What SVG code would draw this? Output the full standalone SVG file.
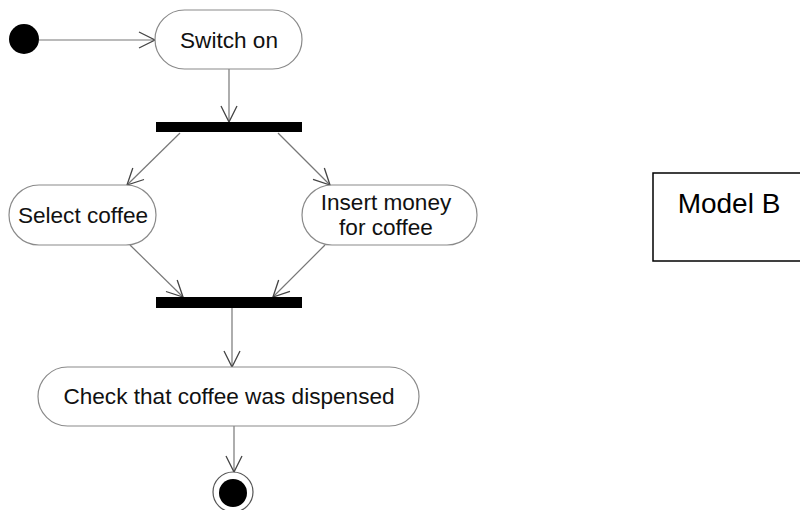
<svg xmlns="http://www.w3.org/2000/svg" width="800" height="510" viewBox="0 0 800 510">
<style>
.act{fill:#fff;stroke:#8a8a8a;stroke-width:1.2}
.bar{fill:#000}
.lbl{font-family:"Liberation Sans",Arial,sans-serif;font-size:22.6px;fill:#111;text-anchor:middle}
.edge{stroke:#777;stroke-width:1.2;fill:none;marker-end:url(#arr)}
</style>
<defs>
<marker id="arr" markerUnits="userSpaceOnUse" markerWidth="20" markerHeight="20" refX="17" refY="9" orient="auto">
<path d="M1,1 L17,9 L1,17" fill="none" stroke="#444" stroke-width="1.3"/>
</marker>
</defs>
<rect width="800" height="510" fill="#fff"/>
<g id="edges">
<line class="edge" x1="39" y1="40" x2="155" y2="40"/>
<line class="edge" x1="229" y1="69" x2="229" y2="122"/>
<line class="edge" x1="180" y1="133" x2="127" y2="185"/>
<line class="edge" x1="278" y1="133" x2="330" y2="185"/>
<line class="edge" x1="130" y1="245" x2="183" y2="297"/>
<line class="edge" x1="325" y1="245" x2="273" y2="297"/>
<line class="edge" x1="232" y1="308" x2="232" y2="367"/>
<line class="edge" x1="234" y1="426" x2="234" y2="472"/>
</g>
<g id="start"><circle cx="24" cy="39" r="15" fill="#000"/></g>
<g id="switchOn">
<rect class="act" x="155" y="10" width="147" height="59" rx="29.5"/>
<text class="lbl" x="229" y="48">Switch on</text>
</g>
<g id="fork"><rect class="bar" x="156" y="122" width="146" height="10"/></g>
<g id="selectCoffee">
<rect class="act" x="9" y="185" width="147" height="60" rx="30"/>
<text class="lbl" x="83" y="223">Select coffee</text>
</g>
<g id="insertMoney">
<rect class="act" x="302" y="185" width="175" height="60" rx="30"/>
<text class="lbl" x="386" y="210">Insert money</text>
<text class="lbl" x="386" y="235">for coffee</text>
</g>
<g id="join"><rect class="bar" x="156" y="297" width="146" height="11"/></g>
<g id="check">
<rect class="act" x="38" y="367" width="381" height="59" rx="29.5"/>
<text class="lbl" x="229" y="404">Check that coffee was dispensed</text>
</g>
<g id="end">
<circle cx="233" cy="492" r="20" fill="#fff" stroke="#555" stroke-width="1.2"/>
<circle cx="233" cy="493" r="14" fill="#000"/>
</g>
<g id="modelB">
<rect x="653" y="173" width="160" height="88" fill="#fff" stroke="#000" stroke-width="1.5"/>
<text x="729" y="213" font-family="Liberation Sans,Arial,sans-serif" font-size="28" fill="#000" text-anchor="middle">Model B</text>
</g>
</svg>
